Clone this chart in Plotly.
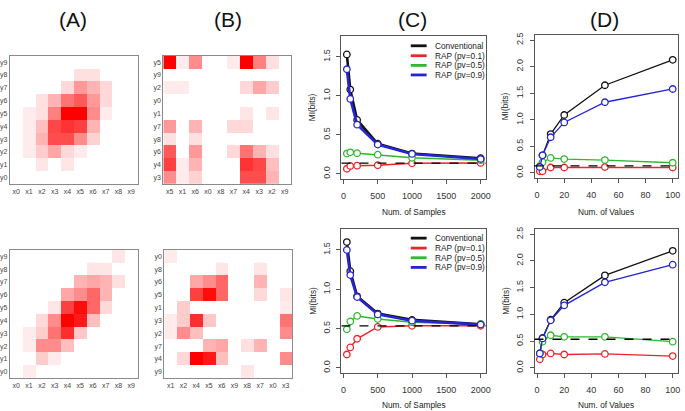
import plotly.graph_objects as go

W, H = 685, 411

# ---------------- data ----------------
x_labels = ["x0", "x1", "x2", "x3", "x4", "x5", "x6", "x7", "x8", "x9"]
y_labels = ["y0", "y1", "y2", "y3", "y4", "y5", "y6", "y7", "y8", "y9"]

# (A) top: rows y0..y9 (bottom->top), columns x0..x9
heat_a_top = [
    [0, 0, 0, 0, 0, 0, 0, 0, 0, 0],
    [0, 0, 0.10, 0, 0.10, 0, 0, 0, 0, 0],
    [0, 0.08, 0.20, 0.35, 0.15, 0.08, 0, 0, 0, 0],
    [0, 0.08, 0.30, 0.70, 0.70, 0.45, 0.18, 0, 0, 0],
    [0, 0.08, 0.25, 0.72, 0.80, 0.75, 0.30, 0, 0, 0],
    [0, 0.08, 0.12, 0.50, 1.00, 1.00, 0.45, 0.08, 0, 0],
    [0, 0, 0.12, 0.30, 0.55, 0.65, 0.40, 0.15, 0, 0],
    [0, 0, 0, 0, 0.15, 0.40, 0.30, 0.15, 0, 0],
    [0, 0, 0, 0, 0, 0.12, 0.12, 0, 0, 0],
    [0, 0, 0, 0, 0, 0, 0, 0, 0, 0],
]
# (A) bottom
heat_a_bottom = [
    [0, 0.08, 0, 0, 0, 0, 0, 0, 0, 0],
    [0, 0, 0.20, 0.08, 0, 0, 0, 0, 0, 0],
    [0, 0.08, 0.45, 0.45, 0.25, 0, 0, 0, 0, 0],
    [0, 0.08, 0.20, 0.55, 0.82, 0.22, 0, 0, 0, 0],
    [0, 0, 0.15, 0.45, 1.00, 0.90, 0.25, 0, 0, 0],
    [0, 0, 0, 0.10, 0.75, 0.95, 0.60, 0.15, 0, 0],
    [0, 0, 0, 0, 0.35, 0.45, 0.60, 0.30, 0, 0],
    [0, 0, 0, 0, 0, 0.30, 0.35, 0.30, 0.12, 0],
    [0, 0, 0, 0, 0, 0, 0.10, 0.10, 0, 0],
    [0, 0, 0, 0, 0, 0, 0, 0, 0.10, 0],
]
# (B) shuffled orders (rows listed top -> bottom)
b_top_cols = ["x5", "x1", "x6", "x0", "x8", "x7", "x4", "x3", "x2", "x9"]
b_top_rows = ["y5", "y9", "y2", "y0", "y1", "y7", "y8", "y6", "y4", "y3"]
b_bottom_cols = ["x1", "x2", "x4", "x5", "x6", "x9", "x8", "x7", "x0", "x3"]
b_bottom_rows = ["y0", "y8", "y6", "y5", "y1", "y3", "y2", "y7", "y4", "y9"]

samples = [50, 100, 200, 500, 1000, 2000]
num_values = [2, 4, 10, 20, 50, 100]
series_names = ["Conventional", "RAP (pv=0.1)", "RAP (pv=0.5)", "RAP (pv=0.9)"]

c_top_conv = [1.53, 1.08, 0.69, 0.385, 0.26, 0.20]
c_top_rap01 = [0.065, 0.10, 0.105, 0.11, 0.135, 0.14]
c_top_rap05 = [0.26, 0.275, 0.265, 0.245, 0.205, 0.175]
c_top_rap09 = [1.34, 0.96, 0.63, 0.375, 0.255, 0.19]
c_top_true = 0.138

c_bot_conv = [1.60, 1.23, 0.91, 0.69, 0.61, 0.555]
c_bot_rap01 = [0.17, 0.26, 0.37, 0.52, 0.535, 0.535]
c_bot_rap05 = [0.49, 0.59, 0.66, 0.62, 0.58, 0.555]
c_bot_rap09 = [1.50, 1.18, 0.90, 0.68, 0.60, 0.55]
c_bot_true = 0.535

d_top_conv = [0.12, 0.33, 0.73, 1.09, 1.65, 2.13]
d_top_rap01 = [0.03, 0.03, 0.10, 0.10, 0.11, 0.10]
d_top_rap05 = [0.12, 0.20, 0.28, 0.26, 0.24, 0.19]
d_top_rap09 = [0.11, 0.33, 0.67, 0.95, 1.33, 1.58]
d_top_true = 0.13

d_bot_conv = [0.27, 0.56, 0.90, 1.22, 1.73, 2.19]
d_bot_rap01 = [0.16, 0.25, 0.27, 0.25, 0.26, 0.22]
d_bot_rap05 = [0.27, 0.49, 0.61, 0.58, 0.58, 0.49]
d_bot_rap09 = [0.27, 0.55, 0.89, 1.17, 1.60, 1.93]
d_bot_true = 0.535

# ---------------- styling ----------------
FONT = "Liberation Sans, Arial, Helvetica, sans-serif"
colors = ["#111111", "#E8262A", "#2DB82D", "#2424D0"]
c_widths = [2.6, 1.5, 1.5, 2.6]
d_widths = [1.3, 1.3, 1.3, 1.3]


def dx(l, r):
    return [l / W, r / W]


def dy(t, b):
    return [1 - b / H, 1 - t / H]


fig = go.Figure()
layout = dict(
    width=W, height=H, margin=dict(l=0, r=0, t=0, b=0),
    paper_bgcolor="white", plot_bgcolor="white", showlegend=False,
    font=dict(family=FONT, color="#333333"),
)

# panel boxes (pixels): id -> (left, right, top, bottom)
boxes = {
    1: (8, 137, 54, 183),    # A top
    2: (163, 292, 54, 183),  # B top
    3: (343, 489, 34, 178),  # C top
    4: (538, 683, 33, 177),  # D top
    5: (8, 137, 249, 378),   # A bottom
    6: (164, 293, 249, 378), # B bottom
    7: (343, 489, 228, 373), # C bottom
    8: (538, 683, 228, 373), # D bottom
}

scale = [[0, "#FFFFFF"], [1, "#FF0000"]]


def add_heat(idx, z, xs, ys):
    fig.add_trace(go.Heatmap(z=z, x=xs, y=ys, colorscale=scale, zmin=0, zmax=1,
                             showscale=False, hoverinfo="skip",
                             xaxis=f"x{idx}", yaxis=f"y{idx}"))
    l, r, t, b = boxes[idx]
    ax = dict(domain=dx(l, r), anchor=f"y{idx}", showline=True, mirror=True,
              linecolor="#8a8a8a", linewidth=1, ticks="", showgrid=False,
              zeroline=False, tickfont=dict(size=7, color="#444444"),
              type="category", categoryorder="array", categoryarray=xs)
    ay = dict(domain=dy(t, b), anchor=f"x{idx}", showline=True, mirror=True,
              linecolor="#8a8a8a", linewidth=1, ticks="", showgrid=False,
              zeroline=False, tickfont=dict(size=7, color="#444444"),
              type="category", categoryorder="array", categoryarray=ys)
    layout["xaxis" if idx == 1 else f"xaxis{idx}"] = ax
    layout["yaxis" if idx == 1 else f"yaxis{idx}"] = ay


def shuffled(base, cols, rows_top_down):
    rows = list(reversed(rows_top_down))
    z = [[base[int(r[1:])][int(c[1:])] for c in cols] for r in rows]
    return z, cols, rows


add_heat(1, heat_a_top, x_labels, y_labels)
add_heat(5, heat_a_bottom, x_labels, y_labels)
zb, cb, rb = shuffled(heat_a_top, b_top_cols, b_top_rows)
add_heat(2, zb, cb, rb)
zb, cb, rb = shuffled(heat_a_bottom, b_bottom_cols, b_bottom_rows)
add_heat(6, zb, cb, rb)

shapes = []
annotations = []


def add_lines(idx, xs, series, widths, true_val, xrange, xticks, yrange, yticks):
    for name, vals, col, w in zip(series_names, series, colors, widths):
        fig.add_trace(go.Scatter(
            x=xs, y=vals, mode="lines+markers", name=name,
            line=dict(color=col, width=w),
            marker=dict(symbol="circle", size=6.5, color="white",
                        line=dict(color=col, width=1.3)),
            xaxis=f"x{idx}", yaxis=f"y{idx}", hoverinfo="skip"))
    shapes.append(dict(type="line", xref=f"x{idx} domain", yref=f"y{idx}",
                       x0=0, x1=1, y0=true_val, y1=true_val,
                       line=dict(color="black", width=1.3, dash="dash")))
    l, r, t, b = boxes[idx]
    common = dict(showline=True, mirror=True, linecolor="#555555", linewidth=1,
                  ticks="outside", ticklen=4, tickcolor="#555555", showgrid=False,
                  zeroline=False, tickfont=dict(size=9, color="#333333"))
    layout[f"xaxis{idx}"] = dict(domain=dx(l, r), anchor=f"y{idx}", range=xrange,
                                 tickvals=xticks, ticklabelstandoff=4, **common)
    layout[f"yaxis{idx}"] = dict(domain=dy(t, b), anchor=f"x{idx}", range=yrange,
                                 tickvals=yticks, tickformat=".1f", tickangle=-90,
                                 ticklabelstandoff=3, **common)


c_xt = [0, 500, 1000, 1500, 2000]
c_yt = [0, 0.5, 1.0, 1.5]
d_xt = [0, 20, 40, 60, 80, 100]
d_yt = [0, 0.5, 1.0, 1.5, 2.0, 2.5]
c_xr = [-28, 2078]
c_yr = [-0.068, 1.768]
d_xr = [-1.92, 103.92]
d_yr = [-0.1, 2.6]

add_lines(3, samples, [c_top_conv, c_top_rap01, c_top_rap05, c_top_rap09],
          c_widths, c_top_true, c_xr, c_xt, c_yr, c_yt)
add_lines(7, samples, [c_bot_conv, c_bot_rap01, c_bot_rap05, c_bot_rap09],
          c_widths, c_bot_true, c_xr, c_xt, c_yr, c_yt)
add_lines(4, num_values, [d_top_conv, d_top_rap01, d_top_rap05, d_top_rap09],
          d_widths, d_top_true, d_xr, d_xt, d_yr, d_yt)
add_lines(8, num_values, [d_bot_conv, d_bot_rap01, d_bot_rap05, d_bot_rap09],
          d_widths, d_bot_true, d_xr, d_xt, d_yr, d_yt)

# legends (inside C panels)
for rows_y in ([44, 54, 63.7, 73.3], [237.3, 247.3, 257, 266.7]):
    for name, col, yy in zip(series_names, colors, rows_y):
        shapes.append(dict(type="line", xref="paper", yref="paper",
                           x0=413 / W, x1=429 / W, y0=1 - yy / H, y1=1 - yy / H,
                           line=dict(color=col, width=2.8)))
        annotations.append(dict(text=name, xref="paper", yref="paper",
                                x=435 / W, y=1 - yy / H, xanchor="left",
                                yanchor="middle", showarrow=False,
                                font=dict(size=8.3, color="#222222")))

# panel titles
for txt, xc in (("(A)", 72), ("(B)", 228), ("(C)", 415), ("(D)", 609)):
    annotations.append(dict(text=txt, xref="paper", yref="paper", x=xc / W,
                            y=1 - 18 / H, xanchor="center", yanchor="middle",
                            showarrow=False, font=dict(size=21, color="#111111")))

# axis titles
for idx in (3, 4, 7, 8):
    l, r, t, b = boxes[idx]
    ylab_x = 314 if idx in (3, 7) else 509
    annotations.append(dict(text="MI(bits)", xref="paper", yref="paper",
                            x=ylab_x / W, y=1 - ((t + b) / 2) / H, textangle=-90,
                            xanchor="center", yanchor="middle", showarrow=False,
                            font=dict(size=8.3, color="#222222")))
    xl = "Num. of Samples" if idx in (3, 7) else "Num. of Values"
    yy = 211 if idx in (3, 4) else 404.5
    annotations.append(dict(text=xl, xref="paper", yref="paper",
                            x=((l + r) / 2) / W, y=1 - yy / H,
                            xanchor="center", yanchor="middle", showarrow=False,
                            font=dict(size=8.3, color="#222222")))

layout["shapes"] = shapes
layout["annotations"] = annotations
fig.update_layout(**layout)
fig.write_html(
    "out.html",
    config={"displayModeBar": False},
    post_script="document.body.style.margin='0';document.body.style.overflow='hidden';",
)
